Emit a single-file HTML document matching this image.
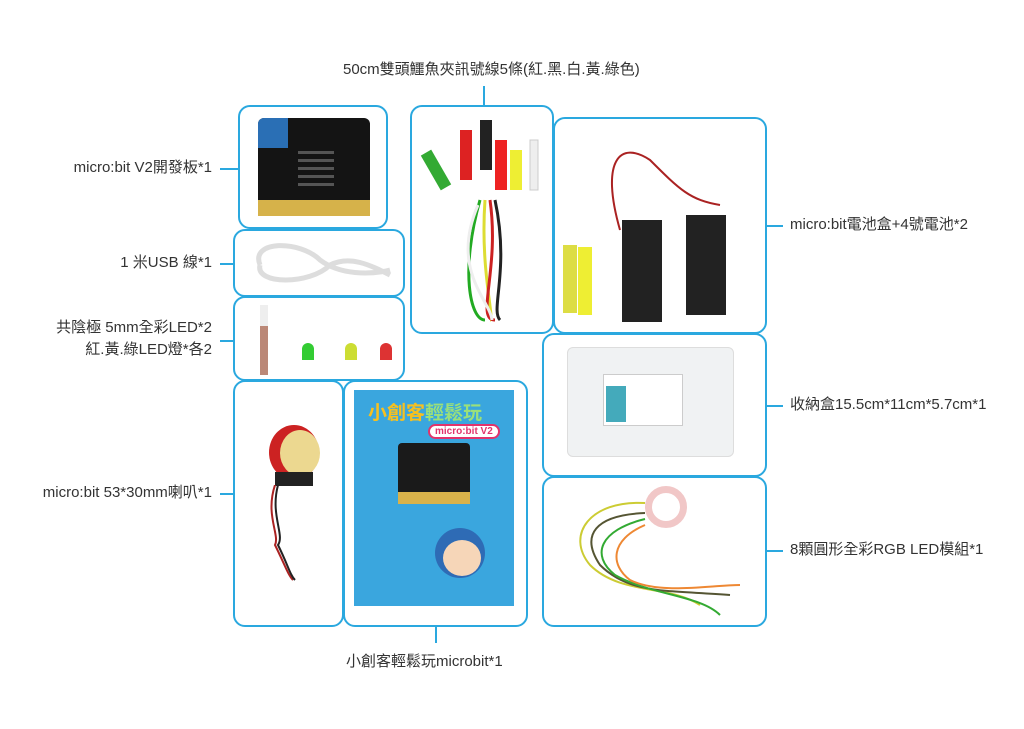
<!DOCTYPE html>
<html><head><meta charset="utf-8"><style>
body{margin:0;width:1024px;height:729px;background:#fff;position:relative;overflow:hidden;font-family:"Liberation Sans","Noto Sans CJK TC",sans-serif;color:#333}
.b{position:absolute;border:2px solid #2aa8df;border-radius:12px;box-sizing:border-box;background:#fff}
.l{position:absolute;font-size:15px;white-space:nowrap;line-height:18px}
.r{position:absolute;font-size:15px;white-space:nowrap;line-height:18px;right:812px;text-align:right}
.h{position:absolute;height:1.5px;background:#2aa8df}
.v{position:absolute;width:1.5px;background:#2aa8df}
.a{position:absolute}
</style></head><body>
<div class="l" style="left:343px;top:61px">50cm雙頭鱷魚夾訊號線5條(紅.黑.白.黃.綠色)</div>
<div class="v" style="left:483px;top:86px;height:20px"></div>

<div class="b" style="left:238px;top:105px;width:150px;height:124px"></div>
<div class="b" style="left:233px;top:229px;width:172px;height:68px"></div>
<div class="b" style="left:233px;top:296px;width:172px;height:85px"></div>
<div class="b" style="left:233px;top:380px;width:111px;height:247px"></div>
<div class="b" style="left:343px;top:380px;width:185px;height:247px"></div>
<div class="b" style="left:410px;top:105px;width:144px;height:229px"></div>
<div class="b" style="left:553px;top:117px;width:214px;height:217px"></div>
<div class="b" style="left:542px;top:333px;width:225px;height:144px"></div>
<div class="b" style="left:542px;top:476px;width:225px;height:151px"></div>

<div class="r" style="top:159px">micro:bit V2開發板*1</div>
<div class="h" style="left:220px;top:168px;width:18px"></div>
<div class="r" style="top:254px">1 米USB 線*1</div>
<div class="h" style="left:220px;top:263px;width:13px"></div>
<div class="r" style="top:319px">共陰極 5mm全彩LED*2</div>
<div class="r" style="top:341px">紅.黃.綠LED燈*各2</div>
<div class="h" style="left:220px;top:340px;width:13px"></div>
<div class="r" style="top:484px">micro:bit 53*30mm喇叭*1</div>
<div class="h" style="left:220px;top:493px;width:13px"></div>
<div class="l" style="left:790px;top:216px">micro:bit電池盒+4號電池*2</div>
<div class="h" style="left:767px;top:225px;width:16px"></div>
<div class="l" style="left:790px;top:396px">收納盒15.5cm*11cm*5.7cm*1</div>
<div class="h" style="left:767px;top:405px;width:16px"></div>
<div class="l" style="left:790px;top:541px">8顆圓形全彩RGB LED模組*1</div>
<div class="h" style="left:767px;top:550px;width:16px"></div>
<div class="v" style="left:435px;top:627px;height:16px"></div>
<div class="l" style="left:346px;top:653px">小創客輕鬆玩microbit*1</div>

<!-- microbit -->
<div class="a" style="left:258px;top:118px;width:112px;height:98px;background:#141414;border-radius:6px"></div>
<div class="a" style="left:258px;top:118px;width:30px;height:30px;background:#2a6fb5;border-radius:6px 0 0 0"></div>
<div class="a" style="left:258px;top:200px;width:112px;height:16px;background:#d6b24a"></div>
<div class="a" style="left:298px;top:148px;width:36px;height:38px;background:repeating-linear-gradient(0deg,#555 0 3px,#141414 3px 8px)"></div>
<!-- usb -->
<svg class="a" style="left:240px;top:235px" width="160" height="58"><path d="M20 30 C10 5 60 5 80 25 C100 40 130 40 150 35 M20 30 C15 50 70 50 90 30 C110 20 130 30 150 40" stroke="#ddd" stroke-width="5" fill="none"/></svg>
<!-- leds -->
<div class="a" style="left:260px;top:305px;width:8px;height:70px;background:linear-gradient(#eee 30%,#b87 30%)"></div>
<div class="a" style="left:302px;top:343px;width:12px;height:17px;background:#3c3;border-radius:6px 6px 0 0"></div>
<div class="a" style="left:345px;top:343px;width:12px;height:17px;background:#cd3;border-radius:6px 6px 0 0"></div>
<div class="a" style="left:380px;top:343px;width:12px;height:17px;background:#d33;border-radius:6px 6px 0 0"></div>
<!-- clips -->
<svg class="a" style="left:420px;top:120px" width="130" height="210"><g fill="none" stroke-width="3"><path d="M60 80 C40 150 50 200 65 200" stroke="#2a2"/><path d="M65 80 C60 150 75 200 70 200" stroke="#dd3"/><path d="M70 80 C80 150 55 200 75 200" stroke="#c22"/><path d="M75 80 C90 150 70 190 80 200" stroke="#222"/><path d="M58 85 C30 150 70 180 72 200" stroke="#eee"/></g><g><rect x="10" y="30" width="12" height="40" fill="#3a3" transform="rotate(-30 16 50)"/><rect x="40" y="10" width="12" height="50" fill="#d22"/><rect x="60" y="0" width="12" height="50" fill="#222"/><rect x="75" y="20" width="12" height="50" fill="#e22"/><rect x="90" y="30" width="12" height="40" fill="#ee3"/><rect x="110" y="20" width="8" height="50" fill="#eee" stroke="#ccc"/></g></svg>
<!-- battery -->
<svg class="a" style="left:560px;top:140px" width="200" height="190"><path d="M60 90 C40 20 60 0 90 20 C120 50 130 60 160 65" stroke="#a22" stroke-width="2" fill="none"/><rect x="62" y="80" width="40" height="102" fill="#222"/><rect x="126" y="75" width="40" height="100" fill="#222"/><rect x="3" y="105" width="14" height="68" fill="#dd4"/><rect x="18" y="107" width="14" height="68" fill="#ee3"/></svg>
<!-- storage box -->
<div class="a" style="left:567px;top:347px;width:165px;height:108px;background:#f0f2f3;border:1px solid #ddd;border-radius:6px"></div>
<div class="a" style="left:603px;top:374px;width:78px;height:50px;background:#fff;border:1px solid #ccc"></div>
<div class="a" style="left:606px;top:386px;width:20px;height:36px;background:#4ab"></div>
<!-- speaker -->
<div class="a" style="left:269px;top:425px;width:50px;height:55px;background:#c22;border-radius:50%"></div>
<div class="a" style="left:280px;top:430px;width:40px;height:46px;background:#ecd890;border-radius:50%"></div>
<div class="a" style="left:275px;top:472px;width:38px;height:14px;background:#222"></div>
<svg class="a" style="left:260px;top:485px" width="40" height="100"><path d="M15 0 C5 30 20 50 15 60 C25 80 28 90 33 95" stroke="#a22" stroke-width="2" fill="none"/><path d="M18 0 C10 30 25 50 18 60 C28 80 30 90 35 95" stroke="#222" stroke-width="2" fill="none"/></svg>
<!-- book -->
<div class="a" style="left:354px;top:390px;width:160px;height:216px;background:#3aa6de"></div>
<div class="a" style="left:368px;top:398px;font-size:19px;font-weight:bold;color:#f6c020">小創客<span style="color:#9be07a">輕鬆玩</span></div>
<div class="a" style="left:428px;top:424px;padding:0 5px;background:#fff;color:#e2336b;border:2px solid #e2336b;border-radius:10px;font-size:10px;font-weight:bold">micro:bit V2</div>
<div class="a" style="left:398px;top:443px;width:72px;height:60px;background:#1a1a1a;border-radius:4px"></div>
<div class="a" style="left:398px;top:492px;width:72px;height:12px;background:#d9b24a"></div>
<div class="a" style="left:435px;top:528px;width:50px;height:50px;background:#2e6bb5;border-radius:50%"></div>
<div class="a" style="left:443px;top:540px;width:38px;height:36px;background:#f6d6b8;border-radius:50%"></div>
<!-- rgb -->
<div class="a" style="left:645px;top:486px;width:28px;height:28px;border:7px solid #f1c7c7;border-radius:50%"></div>
<svg class="a" style="left:570px;top:495px" width="175" height="130"><g fill="none" stroke-width="2"><path d="M75 8 C20 5 -5 40 20 70 C50 100 100 90 130 110" stroke="#cc3"/><path d="M75 18 C25 20 10 40 30 70 C60 100 100 95 160 100" stroke="#553"/><path d="M75 24 C30 35 20 60 45 80 C80 100 130 100 150 120" stroke="#3a3"/><path d="M75 30 C40 45 40 70 60 85 C90 100 140 90 170 90" stroke="#e83"/></g></svg>
</body></html>
